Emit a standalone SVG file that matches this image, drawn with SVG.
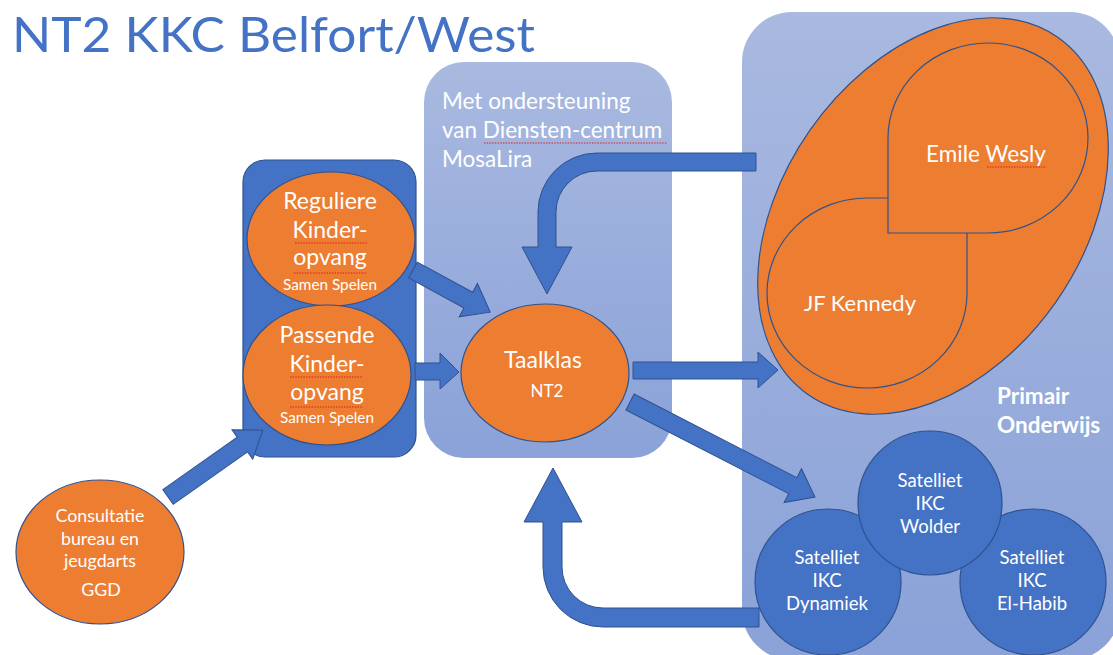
<svg xmlns="http://www.w3.org/2000/svg" width="1113" height="655" viewBox="0 0 1113 655">
<defs>
<linearGradient id="panelGrad" x1="0" y1="0" x2="0" y2="1">
<stop offset="0" stop-color="#A9B9E0"/>
<stop offset="1" stop-color="#8AA2D8"/>
</linearGradient>
<style>
.orange{fill:#ED7D31;stroke:#2F528F;stroke-width:1.2}
.blue{fill:#4472C4;stroke:#2F528F;stroke-width:1.2}
.arrow{fill:#4472C4;stroke:#2F528F;stroke-width:1}
.t{font-family:Lato,"Open Sans","Liberation Sans",sans-serif;fill:#FFFFFF;text-anchor:middle}
.tl{font-family:Lato,"Open Sans","Liberation Sans",sans-serif;fill:#FFFFFF}
.sq{stroke:#E02020;stroke-width:1.2;stroke-dasharray:1.5 1.2;fill:none}
</style>
</defs>
<rect width="1113" height="655" fill="#FFFFFF"/>
<text x="12" y="52" font-family="Lato,'Open Sans','Liberation Sans',sans-serif" font-size="48" fill="#4472C4" textLength="523" lengthAdjust="spacingAndGlyphs">NT2 KKC Belfort/West</text>

<g id="panel-mosalira">
<rect x="424" y="62" width="248" height="396" rx="40" fill="url(#panelGrad)"/>
<text class="tl" x="442" y="109" font-size="22.5">Met ondersteuning</text>
<text class="tl" x="442" y="138" font-size="22.5">van Diensten-centrum</text>
<text class="tl" x="442" y="167" font-size="22.5">MosaLira</text>
<path class="sq" d="M484,143 L667,143"/>
</g>

<g id="panel-primair">
<rect x="742" y="12" width="378" height="648" rx="50" fill="url(#panelGrad)"/>
<text class="tl" x="997" y="404" font-size="22.5" font-weight="bold">Primair</text>
<text class="tl" x="997" y="433" font-size="22.5" font-weight="bold">Onderwijs</text>
</g>

<g id="panel-kinderopvang">
<rect x="243" y="160" width="173" height="297" rx="22" class="blue"/>
</g>

<g id="node-reguliere">
<ellipse cx="331" cy="239" rx="84" ry="67" class="orange"/>
<text class="t" x="330" y="209" font-size="23">Reguliere</text>
<text class="t" x="330" y="238" font-size="23">Kinder-</text>
<text class="t" x="330" y="265" font-size="23">opvang</text>
<text class="t" x="330" y="290" font-size="15.3">Samen Spelen</text>
<path class="sq" d="M295,243 L368,243 M294,273 L367,273"/>
</g>

<g id="node-passende">
<ellipse cx="327" cy="375" rx="84" ry="70" class="orange"/>
<text class="t" x="327" y="343" font-size="23">Passende</text>
<text class="t" x="327" y="372" font-size="23">Kinder-</text>
<text class="t" x="327" y="400" font-size="23">opvang</text>
<text class="t" x="327" y="423" font-size="15.3">Samen Spelen</text>
<path class="sq" d="M290,377 L363,377 M290,407 L363,407"/>
</g>

<g id="node-taalklas">
<ellipse cx="545" cy="373" rx="84" ry="69" class="orange"/>
<text class="t" x="543" y="368" font-size="23">Taalklas</text>
<text class="t" x="547" y="397" font-size="17">NT2</text>
</g>

<g id="node-consultatie">
<ellipse cx="100" cy="552" rx="84" ry="72" class="orange"/>
<text class="t" x="100" y="522" font-size="17.8">Consultatie</text>
<text class="t" x="100" y="545" font-size="17.8">bureau en</text>
<text class="t" x="100" y="567" font-size="17.8">jeugdarts</text>
<text class="t" x="101" y="596" font-size="17.8">GGD</text>
</g>

<g id="node-po-cluster">
<ellipse cx="933" cy="216" rx="218" ry="150" transform="rotate(-55 933 216)" class="orange"/>
</g>

<g id="node-jfkennedy">
<path d="M967,198 L967,293 A100,95 0 1 1 867,198 Z" class="orange"/>
<text class="t" x="860" y="311" font-size="22">JF Kennedy</text>
</g>

<g id="node-emilewesly">
<path d="M888,233 L888,138 A100,95 0 1 1 988,233 Z" class="orange"/>
<text class="t" x="986" y="162" font-size="22.5">Emile Wesly</text>
<path class="sq" d="M987,167 L1046,167"/>
</g>

<g id="node-dynamiek">
<circle cx="828" cy="582" r="73" class="blue"/>
<text class="t" x="827" y="564" font-size="18.5">Satelliet</text>
<text class="t" x="827" y="587" font-size="18.5">IKC</text>
<text class="t" x="827" y="610" font-size="18.5">Dynamiek</text>
</g>

<g id="node-elhabib">
<circle cx="1033" cy="582" r="73" class="blue"/>
<text class="t" x="1032" y="564" font-size="18.5">Satelliet</text>
<text class="t" x="1032" y="587" font-size="18.5">IKC</text>
<text class="t" x="1032" y="610" font-size="18.5">El-Habib</text>
</g>

<g id="node-wolder">
<circle cx="930" cy="503" r="72" class="blue"/>
<text class="t" x="930" y="487" font-size="18.5">Satelliet</text>
<text class="t" x="930" y="510" font-size="18.5">IKC</text>
<text class="t" x="930" y="533" font-size="18.5">Wolder</text>
</g>

<g id="connectors">
<path class="arrow" d="M756,153 L597,153 A59,59 0 0 0 538,212 L538,247 L522,247 L547,294 L572,247 L556,247 L556,212 A41,41 0 0 1 597,171 L756,171 Z"/>
<path class="arrow" d="M759,608 L603,608 A41,41 0 0 1 562,567 L562,522 L582,522 L553,468 L524,522 L543,522 L543,567 A60,60 0 0 0 603,627 L759,627 Z"/>
<path class="arrow" d="M633,362 L758,362 L758,352 L778,370 L758,388 L758,379 L633,379 Z"/>
<path class="arrow" d="M415,363 L440,363 L440,353 L459,372 L440,389 L440,380 L415,380 Z"/>
<path class="arrow" transform="translate(630,402) rotate(27.2)" d="M0,-9 L183,-9 L183,-19 L208,0 L183,19 L183,9 L0,9 Z"/>
<path class="arrow" transform="translate(413,270) rotate(28.6)" d="M0,-9 L63,-9 L63,-19 L88,0 L63,19 L63,9 L0,9 Z"/>
<path class="arrow" transform="translate(168,497) rotate(-35.2)" d="M0,-9 L91,-9 L91,-18 L116,0 L91,18 L91,9 L0,9 Z"/>
</g>
</svg>
